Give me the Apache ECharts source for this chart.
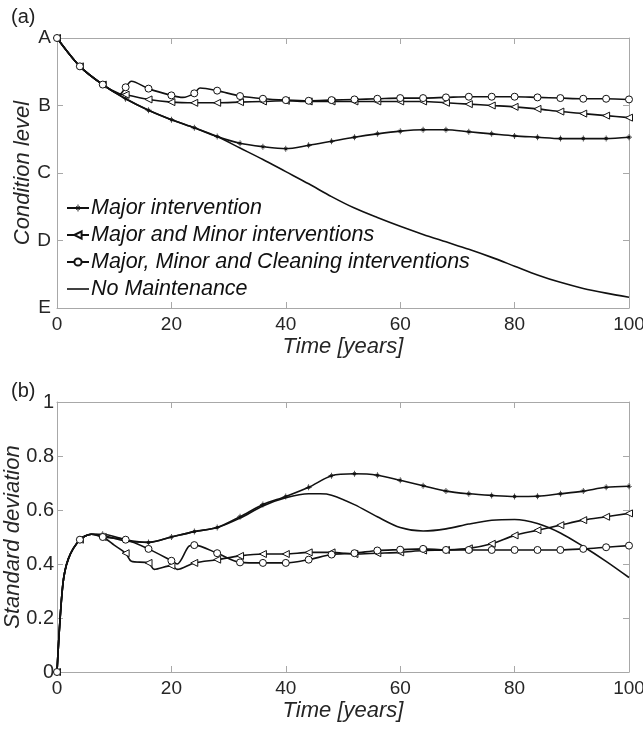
<!DOCTYPE html>
<html><head><meta charset="utf-8">
<script src="https://cdn.jsdelivr.net/npm/echarts@6/dist/echarts.min.js"></script>
<style>html,body{margin:0;padding:0;background:#fff}#c{width:643px;height:729px}</style>
</head><body><div id="c"></div>
<script>
// ---------- tick labels / names ----------
const xTicks = [0, 20, 40, 60, 80, 100];
const levelLabels = ['A', 'B', 'C', 'D', 'E'];
const sdTicks = [0, 0.2, 0.4, 0.6, 0.8, 1];
const seriesNames = ['Major intervention', 'Major and Minor interventions',
  'Major, Minor and Cleaning interventions', 'No Maintenance'];

// ---------- (a) condition level (1=A ... 5=E) ----------
const aMajorT = [0,4,8,12,16,20,24,28,32,36,40,44,48,52,56,60,64,68,72,76,80,84,88,92,96,100];
const aMajorV = [1.00,1.42,1.69,1.90,2.07,2.21,2.33,2.46,2.56,2.61,2.64,2.59,2.53,2.47,2.42,2.38,2.36,2.36,2.39,2.42,2.45,2.47,2.49,2.49,2.49,2.47];
const aMinorT = [0,4,8,11,12,16,20,24,28,32,36,40,44,48,52,56,60,64,68,72,76,80,84,88,92,96,100];
const aMinorV = [1.00,1.42,1.69,1.83,1.84,1.91,1.95,1.96,1.96,1.95,1.94,1.93,1.94,1.94,1.94,1.94,1.94,1.94,1.96,1.98,2.00,2.02,2.05,2.09,2.12,2.15,2.18];
const aCleanT = [0,4,8,11,12,13,16,20,22,24,25,28,32,36,40,44,48,52,56,60,64,68,72,76,80,84,88,92,96,100];
const aCleanV = [1.00,1.42,1.69,1.83,1.73,1.64,1.75,1.85,1.88,1.82,1.74,1.78,1.86,1.90,1.92,1.93,1.92,1.91,1.90,1.89,1.89,1.88,1.87,1.87,1.87,1.88,1.89,1.90,1.90,1.91];
const aNoneT = [0,4,8,12,16,20,24,28,32,36,40,44,48,52,56,60,64,68,72,76,80,84,88,92,96,100];
const aNoneV = [1.00,1.42,1.69,1.90,2.07,2.21,2.33,2.46,2.63,2.80,2.98,3.16,3.35,3.52,3.66,3.79,3.91,4.02,4.13,4.25,4.38,4.51,4.62,4.71,4.78,4.84];

// ---------- (b) standard deviation ----------
const bMajorT = [0,1,2,4,6,8,12,16,20,24,28,32,36,40,44,48,52,56,60,64,68,72,76,80,84,88,92,96,100];
const bMajorV = [0,0.32,0.42,0.49,0.51,0.51,0.49,0.48,0.50,0.52,0.535,0.575,0.62,0.65,0.684,0.727,0.734,0.729,0.71,0.69,0.67,0.66,0.654,0.65,0.651,0.66,0.67,0.684,0.688];
const bMinorT = [0,1,2,4,6,8,10,12,13,16,17,20,21,24,28,32,36,40,44,48,52,56,60,64,68,72,76,80,84,88,92,96,100];
const bMinorV = [0,0.32,0.42,0.49,0.51,0.50,0.47,0.44,0.41,0.404,0.38,0.394,0.38,0.404,0.416,0.43,0.437,0.437,0.443,0.443,0.437,0.44,0.443,0.45,0.452,0.458,0.475,0.506,0.525,0.544,0.5625,0.575,0.5875];
const bCleanT = [0,1,2,4,6,8,12,16,20,21,23,24,28,32,36,40,44,48,52,56,60,64,68,72,76,80,84,88,92,96,100];
const bCleanV = [0,0.32,0.42,0.49,0.51,0.50,0.49,0.456,0.412,0.40,0.465,0.47,0.44,0.406,0.404,0.404,0.416,0.435,0.44,0.45,0.453,0.456,0.452,0.452,0.452,0.452,0.452,0.452,0.456,0.462,0.468];
const bNoneT = [0,1,2,4,6,8,12,16,20,24,28,32,36,40,44,46,48,52,56,60,64,68,72,76,80,84,88,92,96,100];
const bNoneV = [0,0.32,0.42,0.49,0.51,0.505,0.485,0.48,0.50,0.52,0.535,0.57,0.615,0.645,0.66,0.66,0.655,0.62,0.575,0.535,0.522,0.53,0.548,0.562,0.565,0.55,0.515,0.465,0.41,0.35];

// ---------- styling ----------
const FONT = 'Liberation Sans';
const axisGray = '#a8a8a8';
const txt = '#262626';
const star = 'path://M8.8,0L11.2,0L11.2,20L8.8,20Z M0,8.8L20,8.8L20,11.2L0,11.2Z M4.2,5.9L5.9,4.2L15.8,14.1L14.1,15.8Z M14.1,4.2L15.8,5.9L5.9,15.8L4.2,14.1Z';

function pts(ts, vs) {
  return ts.map((t, i) => (t % 4 === 0) ? [t, vs[i]] : { value: [t, vs[i]], symbol: 'none' });
}
function mkSeries(name, ts, vs, kind, xi, yi) {
  const s = {
    name, type: 'line', xAxisIndex: xi, yAxisIndex: yi, data: pts(ts, vs),
    smooth: 0.3, showAllSymbol: true, animation: false,
    lineStyle: { color: '#111', width: 1.6 },
    itemStyle: { color: '#fff', borderColor: '#111', borderWidth: 1 },
    emphasis: { disabled: true }
  };
  if (kind === 'star') { s.symbol = star; s.symbolSize = 6; s.itemStyle = { color: '#111', borderWidth: 0 }; }
  else if (kind === 'tri') { s.symbol = 'triangle'; s.symbolSize = 7; s.symbolRotate = 90; }
  else if (kind === 'circ') { s.symbol = 'circle'; s.symbolSize = 7; }
  else { s.symbol = 'none'; s.itemStyle = { color: '#111' }; }
  return s;
}
const tickCommon = { inside: true, length: 6, lineStyle: { color: axisGray } };
const lineCommon = { show: true, onZero: false, lineStyle: { color: axisGray, width: 1 } };
const labelCommon = { color: txt, fontSize: 19, fontFamily: FONT };
const nameCommon = { color: txt, fontSize: 22, fontStyle: 'italic', fontFamily: FONT };

function xAx(grid, pos, withLabel) {
  return {
    type: 'value', gridIndex: grid, position: pos, min: xTicks[0], max: xTicks[xTicks.length - 1],
    interval: xTicks[1] - xTicks[0], axisLine: lineCommon, axisTick: tickCommon, splitLine: { show: false },
    axisLabel: withLabel ? Object.assign({ margin: 7 }, labelCommon) : { show: false },
    name: withLabel ? 'Time [years]' : '', nameLocation: 'middle', nameGap: 28, nameMoveOverlap: false,
    nameTextStyle: nameCommon
  };
}

const option = {
  animation: false,
  backgroundColor: '#fff',
  textStyle: { fontFamily: FONT },
  title: [
    { text: '(a)', left: 6, top: 2, textStyle: { fontSize: 20, fontWeight: 'normal', color: '#222', fontFamily: FONT } },
    { text: '(b)', left: 6, top: 376, textStyle: { fontSize: 20, fontWeight: 'normal', color: '#222', fontFamily: FONT } }
  ],
  grid: [
    { left: 57, top: 38, width: 572, height: 270, containLabel: false, outerBoundsMode: 'none' },
    { left: 57, top: 402, width: 572, height: 270, containLabel: false, outerBoundsMode: 'none' }
  ],
  legend: {
    data: [
      { name: seriesNames[0] }, { name: seriesNames[1] }, { name: seriesNames[2] },
      { name: seriesNames[3], icon: 'path://M0,4.2L22,4.2L22,5.8L0,5.8Z', itemStyle: { color: '#111', borderWidth: 0 } }
    ],
    orient: 'vertical', left: 61, top: 192,
    itemWidth: 22, itemHeight: 9, itemGap: 5,
    textStyle: { fontSize: 21.5, fontStyle: 'italic', color: '#111', fontFamily: FONT, padding: [0, 0, 0, -3] },
    selectedMode: false
  },
  xAxis: [xAx(0, 'bottom', true), xAx(0, 'top', false), xAx(1, 'bottom', true), xAx(1, 'top', false)],
  yAxis: [
    { type: 'value', gridIndex: 0, position: 'left', min: 1, max: 5, interval: 1, inverse: true,
      axisLine: lineCommon, axisTick: tickCommon, splitLine: { show: false },
      axisLabel: Object.assign({ margin: 6, formatter: v => levelLabels[Math.round(v) - 1] }, labelCommon),
      name: 'Condition level', nameLocation: 'middle', nameGap: 23, nameMoveOverlap: false, nameTextStyle: nameCommon },
    { type: 'value', gridIndex: 0, position: 'right', min: 1, max: 5, interval: 1, inverse: true,
      axisLine: lineCommon, axisTick: tickCommon, splitLine: { show: false }, axisLabel: { show: false } },
    { type: 'value', gridIndex: 1, position: 'left', min: sdTicks[0], max: sdTicks[sdTicks.length - 1], interval: 0.2,
      axisLine: lineCommon, axisTick: tickCommon, splitLine: { show: false },
      axisLabel: Object.assign({}, labelCommon, { margin: 3, fontSize: 20, formatter: v => (v === 0 || v === 1) ? String(v) : v.toFixed(1) }),
      name: 'Standard deviation', nameLocation: 'middle', nameGap: 33, nameMoveOverlap: false, nameTextStyle: nameCommon },
    { type: 'value', gridIndex: 1, position: 'right', min: 0, max: 1, interval: 0.2,
      axisLine: lineCommon, axisTick: tickCommon, splitLine: { show: false }, axisLabel: { show: false } }
  ],
  series: [
    mkSeries(seriesNames[0], aMajorT, aMajorV, 'star', 0, 0),
    mkSeries(seriesNames[1], aMinorT, aMinorV, 'tri', 0, 0),
    mkSeries(seriesNames[2], aCleanT, aCleanV, 'circ', 0, 0),
    mkSeries(seriesNames[3], aNoneT, aNoneV, 'none', 0, 0),
    mkSeries(seriesNames[0], bMajorT, bMajorV, 'star', 2, 2),
    mkSeries(seriesNames[1], bMinorT, bMinorV, 'tri', 2, 2),
    mkSeries(seriesNames[2], bCleanT, bCleanV, 'circ', 2, 2),
    mkSeries(seriesNames[3], bNoneT, bNoneV, 'none', 2, 2)
  ]
};
const chart = echarts.init(document.getElementById('c'), null, { renderer: 'canvas' });
chart.setOption(option);
</script></body></html>
